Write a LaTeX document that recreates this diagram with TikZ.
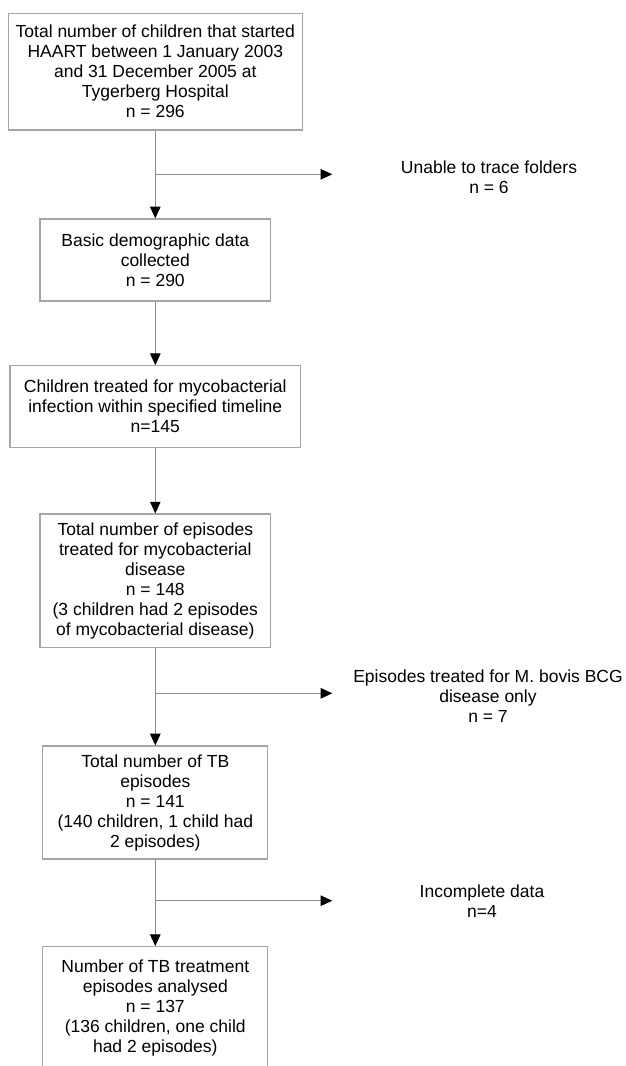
\documentclass[tikz,border=0pt]{standalone}
\usepackage{fontspec}
\setmainfont{Liberation Sans}
\usepackage{xcolor}
\usetikzlibrary{arrows.meta}

\definecolor{boxgray}{RGB}{165,165,165}
\definecolor{linegray}{RGB}{140,140,140}

\begin{document}
\begin{tikzpicture}[x=1pt,y=-1pt,
	flowbox/.style={draw=boxgray,line width=1.2pt,rectangle,inner sep=0pt,align=center,
		font=\fontsize{17.5}{20}\selectfont},
	sidetxt/.style={inner sep=0pt,align=center,font=\fontsize{17.5}{20}\selectfont},
	arr/.style={draw=linegray,line width=1.1pt,-{Triangle[length=11.7pt,width=10.5pt,black]}}]
	\useasboundingbox (0,0) rectangle (626,1066);
	\clip (0,0) rectangle (626,1066);
	
	\node[flowbox,minimum width=294.4pt,minimum height=116.7pt] (start) at (155.3,71.7)
		{Total number of children that started\\HAART between 1 January 2003\\and 31 December 2005 at\\Tygerberg Hospital\\n = 296};
	\node[flowbox,minimum width=230.7pt,minimum height=82pt] (demo) at (155.3,260)
		{Basic demographic data\\collected\\n = 290};
	\node[flowbox,minimum width=290.7pt,minimum height=82pt] (treated) at (155.3,406.7)
		{Children treated for mycobacterial\\infection within specified timeline\\n=145};
	\node[flowbox,minimum width=230.7pt,minimum height=133.3pt] (episodes) at (155.3,580.7)
		{Total number of episodes\\treated for mycobacterial\\disease\\n = 148\\(3 children had 2 episodes\\of mycobacterial disease)};
	\node[flowbox,minimum width=225pt,minimum height=113pt] (tb) at (155.3,802.5)
		{Total number of TB\\episodes\\n = 141\\(140 children, 1 child had\\2 episodes)};
	\node[flowbox,minimum width=225pt,minimum height=123.3pt] (analysed) at (155.3,1008.3)
		{Number of TB treatment\\episodes analysed\\n = 137\\(136 children, one child\\had 2 episodes)};
	
	% excluded
	\node[sidetxt] (trace) at (489,177.7) {Unable to trace folders\\n = 6};
	\node[sidetxt] (bcg) at (488,696) {Episodes treated for M. bovis BCG\\disease only\\n = 7};
	\node[sidetxt] (incomplete) at (482,900.7) {Incomplete data\\n=4};
	
	\coordinate (tip1) at (332.3,174.3);
	\coordinate (tip2) at (332.3,693.3);
	\coordinate (tip3) at (332.3,900.7);
	
	\draw[arr] (start.south) -- (demo.north);
	\draw[arr] (demo.south) -- (treated.north);
	\draw[arr] (treated.south) -- (episodes.north);
	\draw[arr] (episodes.south) -- (tb.north);
	\draw[arr] (tb.south) -- (analysed.north);
	
	\draw[arr] (start.south |- tip1) -- (tip1);
	\draw[arr] (episodes.south |- tip2) -- (tip2);
	\draw[arr] (tb.south |- tip3) -- (tip3);
\end{tikzpicture}
\end{document}
